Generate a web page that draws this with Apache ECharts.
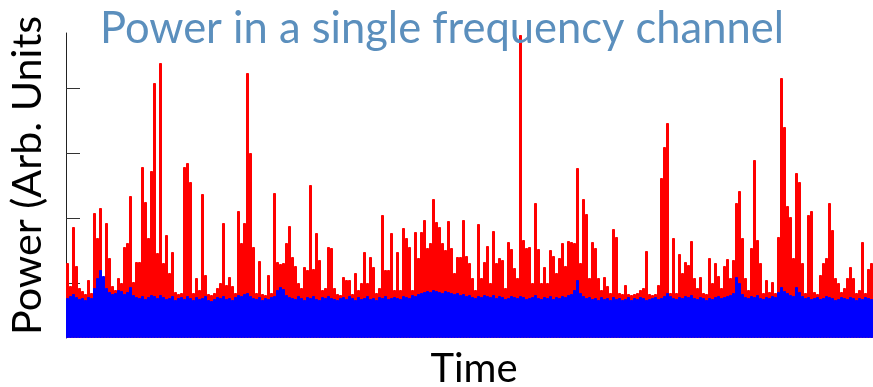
<!DOCTYPE html>
<html>
<head>
<meta charset="utf-8">
<script src="https://cdn.jsdelivr.net/npm/echarts@6/dist/echarts.min.js"></script>
<style>
html,body{margin:0;padding:0;background:#fff;}
#chart{width:873px;height:387px;}
</style>
</head>
<body>
<div id="chart"></div>
<script>
// Title and axis names
const titleText = 'Power in a single frequency channel';
const yName = 'Power (Arb. Units';
const xName = 'Time';

// Y axis tick positions (arbitrary units)
const yTicks = [55, 120, 185, 250];

// Power envelope (red) per time bin, arbitrary units
const redPower = [
  75,52,111,72,50,47,44,58,45,125,
  100,130,50,115,80,52,48,60,55,91,
  95,142,56,76,76,171,136,100,167,255,
  85,275,75,103,65,86,46,44,45,171,
  175,156,45,60,48,144,63,44,43,45,
  50,55,115,53,61,52,45,127,95,115,
  265,185,91,45,77,44,43,63,45,145,
  76,74,75,95,112,81,72,55,50,71,
  68,153,69,105,78,48,50,91,90,50,
  44,43,61,58,58,44,65,48,55,86,
  55,81,71,45,50,123,68,68,105,48,
  86,48,110,100,91,48,106,80,106,118,
  90,95,139,116,111,95,88,117,90,65,
  81,81,118,82,75,60,48,114,60,76,
  92,55,107,75,80,78,50,96,89,70,
  60,303,98,90,91,55,135,89,55,71,
  55,88,82,65,80,95,72,97,96,95,
  170,75,139,124,60,96,90,60,48,61,
  52,45,109,101,45,44,53,44,43,44,
  45,48,50,87,44,43,44,53,160,191,
  215,45,100,45,84,65,76,73,97,60,
  50,61,45,44,80,55,75,62,50,72,
  79,60,78,135,147,100,60,48,90,178,
  98,75,45,58,46,56,45,101,260,211,
  132,121,80,165,156,75,45,123,127,46,
  44,63,75,80,135,108,60,55,46,50,
  60,71,60,45,48,96,45,69,75
];

// Noise floor (blue) per time bin
const bluePower = [
  40,42,44,41,39,40,38,41,40,50,
  60,68,62,50,46,44,45,48,47,44,
  46,51,43,41,40,42,39,41,43,42,
  40,43,41,39,40,42,38,40,41,39,
  42,40,38,41,39,40,42,38,37,39,
  41,40,42,39,40,38,41,43,42,44,
  45,42,40,39,41,38,40,39,41,42,
  48,51,49,43,41,40,39,42,40,38,
  41,40,42,39,38,41,40,42,40,39,
  38,40,41,39,42,40,38,41,39,40,
  42,39,40,38,41,40,42,39,40,41,
  40,39,42,41,40,43,42,44,45,46,
  47,46,48,47,46,45,47,46,45,44,
  45,43,44,42,43,41,40,42,41,43,
  42,41,43,40,42,41,39,40,42,41,
  40,42,41,39,40,41,43,40,39,41,
  40,42,39,41,40,42,41,43,44,48,
  58,45,42,40,41,39,40,38,41,39,
  40,38,41,39,40,38,39,41,38,40,
  39,41,40,38,39,40,41,39,40,42,
  45,42,40,39,41,40,42,41,43,40,
  39,41,40,38,40,39,41,42,40,41,
  42,43,45,61,55,44,41,40,42,41,
  43,40,39,41,40,42,41,46,51,47,
  45,43,42,51,46,42,40,41,39,40,
  41,39,40,42,41,40,38,39,41,40,
  39,41,40,38,40,39,41,40,39
];

const timeBins = redPower.map((_, i) => i);

const chart = echarts.init(document.getElementById('chart'), null, {renderer: 'canvas'});
chart.setOption({
  animation: false,
  backgroundColor: '#ffffff',
  title: {
    text: titleText,
    left: 437,
    textAlign: 'center',
    top: 2,
    textStyle: {
      fontFamily: 'Lato',
      fontWeight: 'normal',
      fontSize: 43.5,
      color: '#5b8fbd'
    }
  },
  grid: {left: 66, right: 0, top: 33, bottom: 49, containLabel: false, outerBoundsMode: 'none'},
  xAxis: {
    type: 'category',
    data: timeBins,
    boundaryGap: true,
    name: xName,
    nameLocation: 'middle',
    nameGap: 11,
    nameTextStyle: {fontFamily: 'Lato', fontSize: 40, color: '#000', padding: [0, 0, 0, 9]},
    axisLine: {show: false},
    axisTick: {show: false},
    axisLabel: {show: false},
    splitLine: {show: false}
  },
  yAxis: {
    type: 'value',
    min: 0,
    max: 305,
    name: yName,
    nameLocation: 'middle',
    nameRotate: 90,
    nameGap: 18,
    nameTextStyle: {fontFamily: 'Lato', fontSize: 41.3, color: '#000', padding: [0, 0, 0, 20]},
    axisLine: {show: true, lineStyle: {color: '#222', width: 1}},
    axisTick: {show: true, inside: true, length: 14, customValues: yTicks, lineStyle: {color: '#333', width: 1}},
    axisLabel: {show: false},
    splitLine: {show: false}
  },
  series: [
    {
      name: 'Power',
      type: 'bar',
      data: redPower,
      barGap: '-100%',
      barCategoryGap: 0,
      itemStyle: {color: '#ff0000', borderColor: '#ff0000', borderWidth: 1},
      z: 2
    },
    {
      name: 'Noise',
      type: 'bar',
      data: bluePower,
      barGap: '-100%',
      barCategoryGap: 0,
      itemStyle: {color: '#0000ff', borderColor: '#0000ff', borderWidth: 1},
      z: 3
    }
  ]
});
</script>
</body>
</html>
